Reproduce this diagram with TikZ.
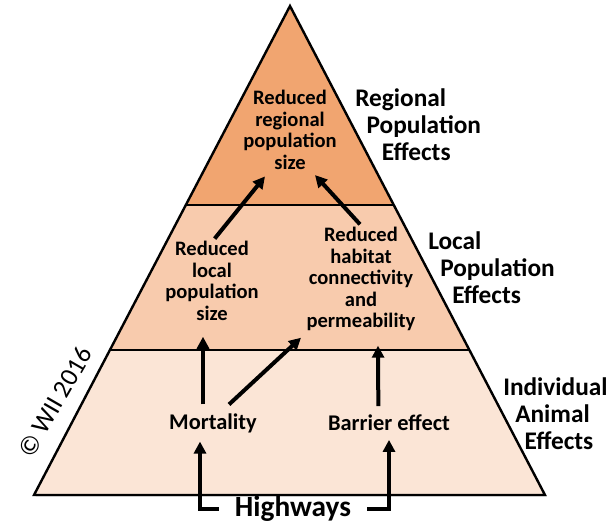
\documentclass[tikz,border=0pt]{standalone}
\usepackage{fontspec}
\setmainfont{Carlito}
\usetikzlibrary{arrows.meta}
\usetikzlibrary{shadows}

\definecolor{regional}{RGB}{241,165,112}
\definecolor{local}{RGB}{248,203,173}
\definecolor{individual}{RGB}{251,229,214}

\begin{document}
\begin{tikzpicture}[x=0.75pt,y=-0.75pt,
  box/.style={align=center,inner sep=0pt,font=\bfseries\fontsize{15.4}{16.1}\selectfont},
  lbl/.style={align=left,anchor=north west,inner sep=0pt,font=\bfseries\fontsize{19}{20.6}\selectfont},
  arr/.style={line width=3pt,-{Triangle[length=9pt,width=9pt]}}]
\useasboundingbox (0,0) rectangle (613,526);

% pyramid with its three bands
\path[fill=white,drop shadow={shadow xshift=1.2pt,shadow yshift=-1.2pt,opacity=0.3}] (290,6) -- (545,495) -- (34,495) -- cycle;
\begin{scope}
\clip (290,6) -- (545,495) -- (34,495) -- cycle;
\fill[regional] (0,0) rectangle (613,205);
\fill[local] (0,205) rectangle (613,350);
\fill[individual] (0,350) rectangle (613,495);
\draw[line width=1.5pt] (0,205) -- (613,205);
\draw[line width=1.5pt] (0,350) -- (613,350);
\end{scope}
\draw[line width=1.8pt,line join=miter] (290,6) -- (545,495) -- (34,495) -- cycle;

% effects inside the bands
\node[box] (regsize) at (290,130) {Reduced\\regional\\population\\size};
\node[box] (localsize) at (212,281) {Reduced\\local\\population\\size};
\node[box] (connect) at (361,279) {Reduced\\habitat\\connectivity\\and\\permeability};
\node[box,font=\bfseries\fontsize{16.8}{17}\selectfont,inner ysep=6.5pt] (mort) at (213,423) {Mortality};
\node[box,font=\bfseries\fontsize{16.8}{17}\selectfont,inner ysep=6.5pt] (barrier) at (389,423) {Barrier effect};
\node[font=\bfseries\fontsize{22}{22}\selectfont,inner xsep=12pt,inner ysep=0pt] (hwy) at (293,509) {Highways};

% levels on the right
\node[lbl] (lvlreg) at (355,88) {Regional\\\hspace*{8.5pt}Population\\\hspace*{20pt}Effects};
\node[lbl] (lvlloc) at (428,231) {Local\\\hspace*{9pt}Population\\\hspace*{18pt}Effects};
\node[lbl] (lvlind) at (503,377) {Individual\\\hspace*{9pt}Animal\\\hspace*{16pt}Effects};

\node[rotate=60,font=\fontsize{19.5}{20}\selectfont] (copy) at (55,402) {\textcopyright{} WII 2016};

% arrows
\draw[arr] (hwy.west) -| ([xshift=-9.75pt]mort.south);
\draw[arr] (hwy.east) -| (barrier.south);
\draw[arr] ([xshift=-7.5pt]mort.north) -- ([xshift=-6.75pt,yshift=-12pt]localsize.south);
\draw[arr] ([xshift=12pt]mort.north) -- ([xshift=-4pt,yshift=-5pt]connect.south west);
\draw[arr] ([xshift=-8pt]barrier.north) -- ([xshift=12.75pt,yshift=-11pt]connect.south);
\draw[arr] ([xshift=2pt,yshift=2pt]localsize.north) -- ([xshift=-18.75pt,yshift=-5pt]regsize.south);
\draw[arr] ([xshift=-0.75pt,yshift=2pt]connect.north) -- ([xshift=18.75pt,yshift=-4pt]regsize.south);
\end{tikzpicture}
\end{document}
